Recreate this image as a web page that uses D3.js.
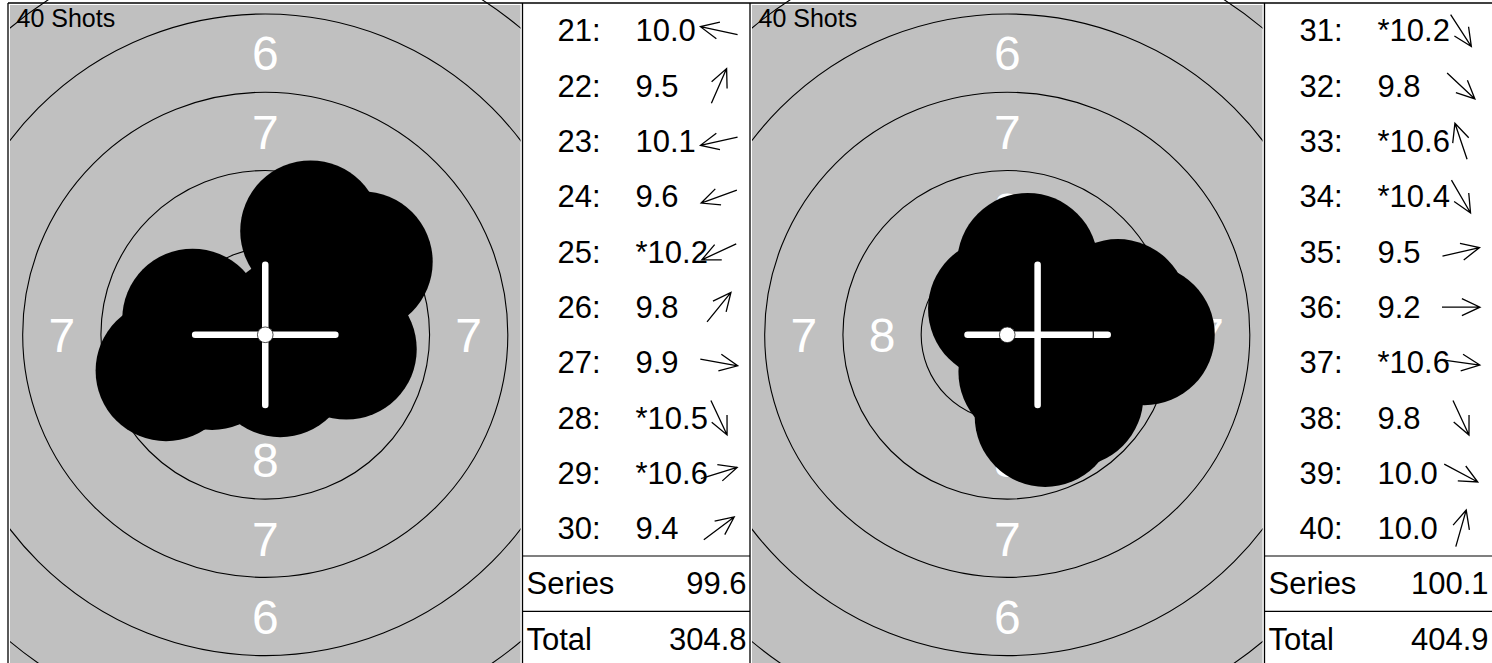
<!DOCTYPE html>
<html><head><meta charset="utf-8">
<script src="https://cdn.jsdelivr.net/npm/d3@7"></script>
<style>html,body{margin:0;padding:0;background:#fff;overflow:hidden}svg{display:block}</style>
</head><body><svg id="c" width="1492" height="663"></svg>
<script>
// ---------------- DATA ----------------
const panelTitles = ["40 Shots", "40 Shots"];
// shots, series 3 (panel 1) and series 4 (panel 2)
const shotNumbers1 = [21, 22, 23, 24, 25, 26, 27, 28, 29, 30];
const scores1      = [10.0, 9.5, 10.1, 9.6, 10.2, 9.8, 9.9, 10.5, 10.6, 9.4];
const innerTen1    = [false, false, false, false, true, false, false, true, true, false];
// shot centre positions in mm (x right, y up)
const shotX1 = [-2.32, 1.45, -2.08, -3.17, -1.70, 1.81, 2.59, 0.48, 0.84, 3.10];
const shotY1 = [0.50, 3.32, -0.46, -1.15, -0.79, 2.24, -0.46, -1.02, 0.26, 2.33];

const shotNumbers2 = [31, 32, 33, 34, 35, 36, 37, 38, 39, 40];
const scores2      = [10.2, 9.8, 10.6, 10.4, 9.5, 9.2, 10.6, 9.8, 10.0, 10.0];
const innerTen2    = [true, false, true, true, false, false, true, false, false, false];
const shotX2 = [1.02, 2.10, -0.28, 0.69, 3.53, 4.38, 0.86, 1.21, 2.10, 0.65];
const shotY2 = [-1.57, -1.96, 0.83, -1.19, 0.81, 0.0, -0.12, -2.61, -1.12, 2.28];

const summaryLabels  = ["Series", "Total"];
const summaryValues1 = [99.6, 304.8];
const summaryValues2 = [100.1, 404.9];

// crosshair (aim mark) position per panel, mm
const aimX = [0.0, 0.97];
const aimY = [0.0, 0.0];

// target geometry (10 m air rifle), mm
const ringRadii   = [12.75, 10.25, 7.75, 5.25, 2.75];   // rings 5..9 outer edges
const tenRadius   = 0.25;
const ringLabels  = ["6", "7", "8"];
const labelRadii  = [9.0, 6.5, 4.0];
const shotRadius  = 2.25;

// ---------------- LAYOUT ----------------
const W = 1492, H = 663;
const topY = 3, rowH = 55.3;
const panelX0 = 8, panelW = 742, targetW = 514.5, listW = 227.5;
const pxPerMM = 31.3;
const svg = d3.select("#c");
const defs = svg.append("defs");

const panels = [
  {nums: shotNumbers1, scores: scores1, inner: innerTen1, xs: shotX1, ys: shotY1, sums: summaryValues1},
  {nums: shotNumbers2, scores: scores2, inner: innerTen2, xs: shotX2, ys: shotY2, sums: summaryValues2}
];

const font = "'Liberation Sans', Arial, Helvetica, sans-serif";
const bottomY = topY + rowH * 12;

panels.forEach((p, i) => {
  const x0 = panelX0 + panelW * i;
  const gL = x0 + 2, gR = x0 + targetW - 2, gT = topY + 2, gB = bottomY - 2;
  const cx = (gL + gR) / 2, cy = (gT + gB) / 2;
  const xS = d3.scaleLinear().domain([-1, 1]).range([cx - pxPerMM, cx + pxPerMM]);
  const yS = d3.scaleLinear().domain([-1, 1]).range([cy + pxPerMM, cy - pxPerMM]);
  const rS = d3.scaleLinear().domain([0, 1]).range([0, pxPerMM]);

  defs.append("clipPath").attr("id", "g" + i).append("rect")
    .attr("x", gL).attr("y", gT).attr("width", gR - gL).attr("height", gB - gT);
  defs.append("clipPath").attr("id", "r" + i).append("rect")
    .attr("x", gL).attr("y", 0).attr("width", gR - gL).attr("height", H);

  const g = svg.append("g");
  g.append("rect").attr("x", gL).attr("y", gT).attr("width", gR - gL).attr("height", gB - gT)
    .attr("fill", "#c0c0c0");

  const inner = g.append("g").attr("clip-path", `url(#g${i})`);
  // ring labels (only those whose centre falls inside the target area)
  const dirs = [[0, 1], [0, -1], [-1, 0], [1, 0]];
  ringLabels.forEach((lab, k) => {
    dirs.forEach(d => {
      const lxp = xS(d[0] * labelRadii[k]), lyp = yS(d[1] * labelRadii[k]);
      if (lxp < gL + 10 || lxp > gR - 10 || lyp < gT + 10 || lyp > gB - 10) return;
      inner.append("text")
        .attr("x", lxp).attr("y", lyp)
        .attr("dy", "0.36em")
        .attr("text-anchor", "middle")
        .attr("font-family", font).attr("font-size", 48)
        .attr("fill", "#fff").text(lab);
    });
  });
  // shots
  inner.selectAll("circle.shot").data(p.xs.map((x, k) => ({x, y: p.ys[k]})))
    .join("circle").attr("class", "shot")
    .attr("cx", d => xS(d.x)).attr("cy", d => yS(d.y)).attr("r", rS(shotRadius))
    .attr("fill", "#000");
  // crosshair
  const half = 2.24;
  const ax = aimX[i], ay = aimY[i];
  [[[ax - half, ay], [ax + half, ay]], [[ax, ay - half], [ax, ay + half]]].forEach(seg => {
    inner.append("line")
      .attr("x1", xS(seg[0][0])).attr("y1", yS(seg[0][1]))
      .attr("x2", xS(seg[1][0])).attr("y2", yS(seg[1][1]))
      .attr("stroke", "#fff").attr("stroke-width", 6.5).attr("stroke-linecap", "round");
  });
  // rings
  g.append("g").attr("clip-path", `url(#r${i})`).selectAll("circle")
    .data(ringRadii).join("circle")
    .attr("cx", xS(0)).attr("cy", yS(0)).attr("r", d => rS(d))
    .attr("fill", "none").attr("stroke", "#000").attr("stroke-width", 1.1);
  // ten ring dot
  g.append("circle").attr("cx", xS(0)).attr("cy", yS(0)).attr("r", rS(tenRadius))
    .attr("fill", "#fff").attr("stroke", "#222").attr("stroke-width", 0.8);
  // title
  g.append("text").attr("x", gL + 6.5).attr("y", 27)
    .attr("font-family", font).attr("font-size", 25).attr("fill", "#000")
    .text(panelTitles[i]);

  // ---- list ----
  const lx = x0 + targetW;
  const rowY = d3.scaleLinear().domain([0, 1]).range([topY + rowH / 2, topY + rowH * 1.5]);
  const lg = svg.append("g");
  p.nums.forEach((n, k) => {
    const yc = rowY(k);
    lg.append("text").attr("x", lx + 35).attr("y", yc + 10.8)
      .attr("font-family", font).attr("font-size", 31).attr("fill", "#000").text(n + ":");
    lg.append("text").attr("x", lx + 113).attr("y", yc + 10.8)
      .attr("font-family", font).attr("font-size", 31).attr("fill", "#000")
      .text((p.inner[k] ? "*" : "") + p.scores[k].toFixed(1));
    // direction arrow
    const ang = Math.atan2(-p.ys[k], p.xs[k]);
    const L = 38, wl = 20, wa = 25 * Math.PI / 180;
    const acx = lx + 196.5;
    const tx = acx - Math.cos(ang) * L / 2, ty = yc - Math.sin(ang) * L / 2;
    const hx = acx + Math.cos(ang) * L / 2, hy = yc + Math.sin(ang) * L / 2;
    const b = ang + Math.PI;
    const path = d3.path();
    path.moveTo(tx, ty); path.lineTo(hx, hy);
    path.moveTo(hx + Math.cos(b - wa) * wl, hy + Math.sin(b - wa) * wl);
    path.lineTo(hx, hy);
    path.lineTo(hx + Math.cos(b + wa) * wl, hy + Math.sin(b + wa) * wl);
    lg.append("path").attr("d", path.toString()).attr("fill", "none")
      .attr("stroke", "#000").attr("stroke-width", 1.3);
  });
  summaryLabels.forEach((lab, k) => {
    const yc = rowY(10 + k);
    lg.append("text").attr("x", lx + 4).attr("y", yc + 10.8)
      .attr("font-family", font).attr("font-size", 31).attr("fill", "#000").text(lab);
    lg.append("text").attr("x", lx + 224).attr("y", yc + 10.8).attr("text-anchor", "end")
      .attr("font-family", font).attr("font-size", 31).attr("fill", "#000")
      .text(p.sums[k].toFixed(1));
    lg.append("line").attr("x1", lx).attr("x2", lx + listW)
      .attr("y1", topY + rowH * (10 + k)).attr("y2", topY + rowH * (10 + k))
      .attr("stroke", "#000").attr("stroke-width", 1.2);
  });
  // cell borders
  [x0, lx].forEach(x => {
    svg.append("line").attr("x1", x).attr("x2", x).attr("y1", topY).attr("y2", bottomY)
      .attr("stroke", "#000").attr("stroke-width", 1.3);
  });
});
svg.append("line").attr("x1", panelX0).attr("x2", W).attr("y1", topY).attr("y2", topY)
  .attr("stroke", "#000").attr("stroke-width", 1.3);
</script></body></html>
